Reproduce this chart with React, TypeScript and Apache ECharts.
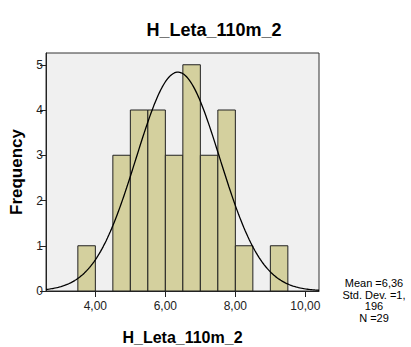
import React, { useEffect, useRef } from "react";
import * as echarts from "echarts";

const title = "H_Leta_110m_2";
const binStarts = [3.5, 4.5, 5.0, 5.5, 6.0, 6.5, 7.0, 7.5, 8.0, 9.0];
const counts = [1, 3, 4, 4, 3, 5, 3, 4, 1, 1];
const binWidth = 0.5;
const xTicks = [4, 6, 8, 10];
const yTicks = [0, 1, 2, 3, 4, 5];
const mean = 6.36;
const sd = 1.196;
const n = 29;
const statsLines = ["Mean =6,36", "Std. Dev. =1,", "196", "N =29"];

const X_MIN = 2.59;
const X_MAX = 10.39;
const Y_MAX = 5.26;

function normalCurve(): number[][] {
  const pts: number[][] = [];
  const k = (n * binWidth) / (sd * Math.sqrt(2 * Math.PI));
  const steps = 200;
  for (let i = 0; i <= steps; i++) {
    const x = X_MIN + ((X_MAX - X_MIN) * i) / steps;
    const z = (x - mean) / sd;
    pts.push([x, k * Math.exp(-0.5 * z * z)]);
  }
  return pts;
}

const FONT = "Liberation Sans, Arial, sans-serif";

export default function App() {
  const ref = useRef<HTMLDivElement>(null);
  useEffect(() => {
    if (!ref.current) return;
    const chart = echarts.init(ref.current, null, { renderer: "svg" });
    const barData = binStarts.map((s, i) => [s, s + binWidth, counts[i]]);
    chart.setOption({
      animation: false,
      textStyle: { fontFamily: FONT },
      title: {
        text: title,
        left: 209,
        textAlign: "center",
        top: 16,
        textStyle: { fontFamily: FONT, fontSize: 18, fontWeight: "bold", color: "#000" },
      },
      grid: {
        left: 46,
        right: 92,
        top: 53,
        bottom: 56,
        show: true,
        backgroundColor: "#F0F0F0",
        borderColor: "#333",
        borderWidth: 1,
        outerBoundsMode: "none",
        containLabel: false,
      },
      xAxis: {
        type: "value",
        min: X_MIN,
        max: X_MAX,
        name: title,
        nameLocation: "middle",
        nameGap: 38,
        nameTextStyle: { fontFamily: FONT, fontSize: 16, fontWeight: "bold", color: "#000" },
        axisLine: { show: true, lineStyle: { color: "#222" } },
        axisTick: { show: true, length: 6, customValues: xTicks, lineStyle: { color: "#222" } },
        axisLabel: {
          customValues: xTicks,
          margin: 9,
          fontSize: 12,
          color: "#222",
          fontFamily: FONT,
          formatter: (v: number) => v.toFixed(2).replace(".", ","),
        },
        splitLine: { show: false },
      },
      yAxis: {
        type: "value",
        min: 0,
        max: Y_MAX,
        name: "Frequency",
        nameLocation: "middle",
        nameGap: 21,
        nameRotate: 90,
        nameTextStyle: { fontFamily: FONT, fontSize: 17, fontWeight: "bold", color: "#000" },
        axisLine: { show: true, lineStyle: { color: "#222" } },
        axisTick: { show: true, length: 6, customValues: yTicks, lineStyle: { color: "#222" } },
        axisLabel: {
          customValues: yTicks,
          margin: 3,
          fontSize: 12,
          color: "#222",
          fontFamily: FONT,
        },
        splitLine: { show: false },
      },
      graphic: statsLines.map((t, i) => ({
        type: "text",
        x: 374,
        y: 283 + i * 11.5,
        style: {
          text: t,
          fontFamily: FONT,
          fontSize: 11,
          fill: "#000",
          align: "center",
          verticalAlign: "middle",
        },
      })),
      series: [
        {
          type: "custom",
          data: barData,
          encode: { x: [0, 1], y: 2 },
          renderItem: (params: any, api: any) => {
            const p0 = api.coord([api.value(0), api.value(2)]);
            const p1 = api.coord([api.value(1), 0]);
            return {
              type: "rect",
              shape: { x: p0[0], y: p0[1], width: p1[0] - p0[0], height: p1[1] - p0[1] },
              style: { fill: "#D4D09E", stroke: "#222", lineWidth: 1 },
            };
          },
          z: 2,
        },
        {
          type: "line",
          data: normalCurve(),
          showSymbol: false,
          symbol: "none",
          lineStyle: { color: "#000", width: 1.3 },
          z: 3,
        },
      ],
    });
    return () => chart.dispose();
  }, []);
  return <div ref={ref} style={{ width: 411, height: 347, position: "absolute", left: 0, top: 0 }} />;
}
